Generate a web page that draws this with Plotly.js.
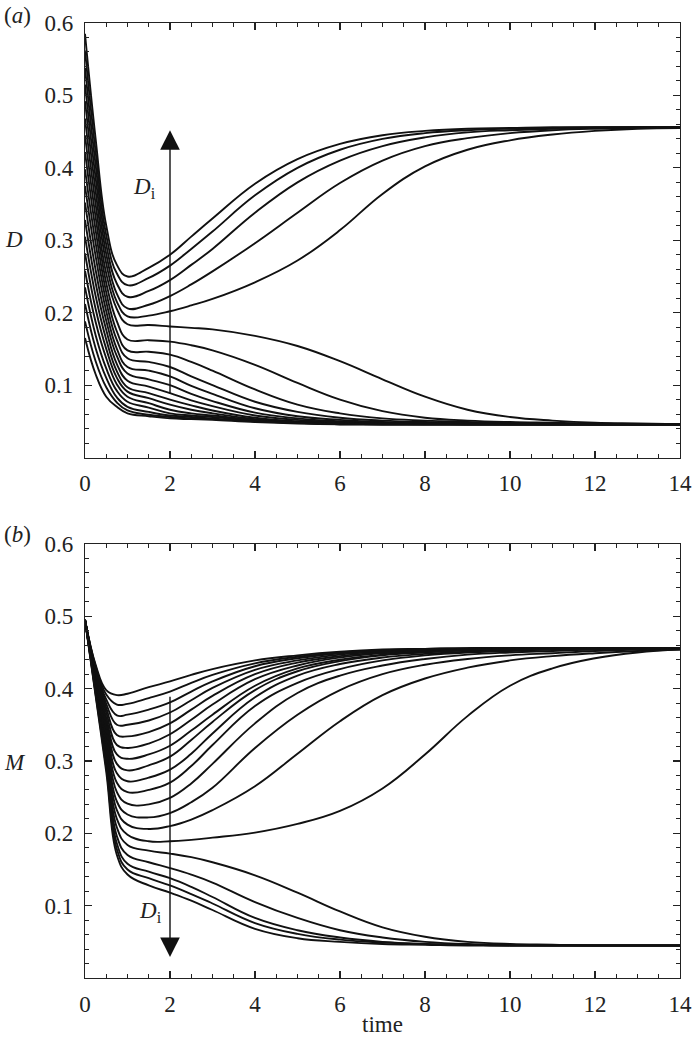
<!DOCTYPE html>
<html>
<head>
<meta charset="utf-8">
<script src="https://cdn.plot.ly/plotly-3.0.1.min.js"></script>
<style>
  html, body { margin: 0; padding: 0; background: #fff; }
  #chart { width: 693px; height: 1040px; }
</style>
</head>
<body>
<div id="chart"></div>
<script>
// sample times shared by every curve
const times = [0, 0.25, 0.5, 0.75, 1, 1.5, 2, 2.5, 3, 4, 5, 6, 7, 8, 9, 10, 11, 12, 13, 14];

// panel (a): D, curves that end on the high branch
const dRising = [
    [.585, .440, .320, .266, .250, .262, .280, .305, .330, .378, .412, .433, .445, .451, .454, .455, .456, .456, .456, .456],
    [.562, .422, .307, .254, .238, .248, .265, .288, .312, .362, .400, .425, .440, .448, .452, .454, .455, .456, .456, .456],
    [.538, .404, .294, .240, .222, .230, .245, .266, .288, .338, .380, .410, .430, .442, .449, .452, .454, .455, .456, .456],
    [.515, .386, .281, .226, .206, .211, .223, .239, .257, .296, .338, .379, .410, .430, .441, .448, .452, .454, .455, .456],
    [.492, .368, .268, .215, .195, .196, .202, .210, .219, .242, .272, .314, .364, .402, .425, .438, .446, .451, .454, .455]
];
// panel (a): D, curves that end on the low branch
const dFalling = [
    [.468, .350, .254, .205, .184, .183, .181, .179, .177, .168, .154, .133, .108, .084, .066, .056, .051, .048, .047, .046],
    [.445, .332, .241, .188, .163, .162, .160, .155, .148, .128, .103, .080, .064, .055, .051, .049, .048, .047, .046, .046],
    [.422, .314, .228, .174, .148, .146, .142, .132, .120, .094, .073, .061, .054, .051, .049, .048, .047, .046, .046, .046],
    [.398, .296, .215, .162, .137, .132, .125, .112, .100, .077, .063, .055, .051, .049, .048, .047, .046, .046, .046, .046],
    [.375, .278, .202, .150, .125, .120, .112, .099, .088, .068, .057, .052, .049, .048, .047, .046, .046, .046, .046, .046],
    [.352, .259, .189, .140, .116, .108, .100, .088, .078, .062, .054, .050, .048, .047, .046, .046, .046, .046, .046, .046],
    [.328, .241, .176, .129, .106, .098, .089, .079, .071, .058, .052, .049, .047, .047, .046, .046, .046, .046, .046, .046],
    [.305, .223, .163, .119, .097, .089, .080, .072, .065, .055, .050, .048, .047, .046, .046, .046, .046, .046, .046, .046],
    [.282, .205, .150, .110, .091, .082, .073, .066, .061, .053, .049, .047, .046, .046, .046, .046, .046, .046, .046, .046],
    [.258, .187, .137, .101, .084, .075, .066, .061, .058, .052, .049, .047, .046, .046, .046, .046, .046, .046, .046, .046],
    [.235, .169, .123, .092, .077, .069, .061, .058, .056, .051, .048, .047, .046, .046, .046, .046, .046, .046, .046, .046],
    [.212, .151, .110, .083, .070, .063, .058, .056, .054, .050, .048, .046, .046, .046, .046, .046, .046, .046, .046, .046],
    [.188, .133, .097, .076, .065, .059, .056, .054, .053, .050, .048, .046, .046, .046, .046, .046, .046, .046, .046, .046],
    [.165, .115, .084, .070, .061, .057, .054, .053, .052, .049, .047, .046, .046, .046, .046, .046, .046, .046, .046, .046]
];

// panel (b): M, high branch
const mRising = [
    [.495, .433, .398, .391, .393, .402, .410, .419, .427, .439, .446, .451, .454, .455, .456, .456, .456, .456, .456, .456],
    [.495, .431, .392, .378, .379, .387, .396, .408, .419, .435, .444, .450, .453, .455, .456, .456, .456, .456, .456, .456],
    [.495, .428, .385, .363, .364, .371, .381, .396, .410, .431, .442, .449, .452, .454, .455, .456, .456, .456, .456, .456],
    [.495, .426, .379, .350, .350, .356, .367, .384, .401, .426, .439, .447, .451, .454, .455, .456, .456, .456, .456, .456],
    [.495, .423, .373, .336, .334, .340, .352, .371, .390, .420, .436, .445, .450, .453, .455, .456, .456, .456, .456, .456],
    [.495, .421, .367, .322, .318, .324, .337, .357, .378, .413, .432, .443, .449, .452, .454, .455, .456, .456, .456, .456],
    [.495, .419, .360, .309, .303, .309, .321, .342, .364, .404, .428, .440, .447, .451, .453, .455, .456, .456, .456, .456],
    [.495, .416, .354, .296, .287, .294, .306, .329, .354, .398, .424, .438, .446, .450, .453, .454, .455, .456, .456, .456],
    [.495, .414, .348, .283, .272, .277, .288, .310, .338, .388, .418, .434, .443, .448, .451, .453, .455, .455, .456, .456],
    [.495, .412, .342, .270, .257, .260, .270, .293, .322, .376, .408, .427, .439, .446, .450, .452, .454, .455, .456, .456],
    [.495, .409, .335, .257, .241, .240, .249, .269, .296, .352, .394, .418, .432, .441, .447, .450, .452, .454, .455, .455],
    [.495, .407, .329, .244, .226, .222, .228, .243, .263, .318, .364, .398, .420, .433, .441, .446, .449, .452, .454, .455],
    [.495, .404, .323, .232, .212, .206, .210, .219, .232, .265, .310, .355, .391, .414, .429, .439, .445, .449, .452, .454],
    [.495, .402, .316, .220, .198, .189, .189, .191, .194, .201, .213, .231, .262, .309, .362, .404, .428, .442, .450, .454]
];
// panel (b): M, low branch
const mFalling = [
    [.495, .400, .310, .208, .184, .176, .172, .167, .160, .142, .118, .092, .070, .057, .050, .047, .046, .045, .045, .045],
    [.495, .397, .304, .196, .170, .160, .152, .143, .132, .105, .083, .066, .056, .050, .047, .046, .045, .045, .045, .045],
    [.495, .395, .298, .186, .158, .147, .138, .126, .112, .083, .066, .056, .050, .047, .046, .045, .045, .045, .045, .045],
    [.495, .392, .291, .178, .150, .138, .128, .116, .103, .076, .061, .053, .049, .047, .046, .045, .045, .045, .045, .045],
    [.495, .390, .285, .170, .143, .128, .118, .107, .094, .068, .055, .050, .047, .046, .045, .045, .045, .045, .045, .045]
];

const xTicks = [0, 2, 4, 6, 8, 10, 12, 14];
const yTicks = [0.1, 0.2, 0.3, 0.4, 0.5, 0.6];
const yTickText = ['0.1', '0.2', '0.3', '0.4', '0.5', '0.6'];

const serif = '"Liberation Serif", "Times New Roman", serif';
const ink = '#111';

function curveTrace(ys, xa, ya) {
    return {
        type: 'scatter', mode: 'lines',
        x: times, y: ys, xaxis: xa, yaxis: ya,
        line: {color: ink, width: 1.9, shape: 'spline', smoothing: 1.2},
        hoverinfo: 'skip', showlegend: false
    };
}

const data = [];
dRising.concat(dFalling).forEach(c => data.push(curveTrace(c, 'x', 'y')));
mRising.concat(mFalling).forEach(c => data.push(curveTrace(c, 'x2', 'y2')));

function xAxis(anchor) {
    return {
        anchor: anchor, domain: [0, 1], range: [0, 14],
        tickmode: 'array', tickvals: xTicks,
        ticks: 'inside', ticklen: 7, tickwidth: 1.2, tickcolor: '#222',
        minor: {tick0: 0, dtick: 0.5, ticks: 'inside', ticklen: 4, tickwidth: 1, tickcolor: '#222'},
        showline: true, linecolor: '#222', linewidth: 1.2, mirror: 'allticks',
        showgrid: false, zeroline: false,
        ticklabelstandoff: 5,
        tickfont: {family: serif, size: 23, color: '#222'}
    };
}
function yAxis(anchor, domain) {
    return {
        anchor: anchor, domain: domain, range: [0, 0.6],
        tickmode: 'array', tickvals: yTicks, ticktext: yTickText,
        ticks: 'inside', ticklen: 7, tickwidth: 1.2, tickcolor: '#222',
        minor: {tick0: 0, dtick: 0.02, ticks: 'inside', ticklen: 4, tickwidth: 1, tickcolor: '#222'},
        showline: true, linecolor: '#222', linewidth: 1.2, mirror: 'allticks',
        showgrid: false, zeroline: false,
        ticklabelstandoff: 6,
        tickfont: {family: serif, size: 23, color: '#222'}
    };
}

const txt = (text, x, y) => ({
    text: text, x: x, y: y, xref: 'paper', yref: 'paper',
    xanchor: 'center', yanchor: 'middle',
    showarrow: false, font: {family: serif, size: 23, color: '#222'}
});

const layout = {
    width: 693, height: 1040,
    margin: {l: 85, r: 13, t: 23, b: 62},
    paper_bgcolor: '#fff', plot_bgcolor: '#fff',
    xaxis: xAxis('y'),
    yaxis: yAxis('x', [0.545, 1]),
    xaxis2: xAxis('y2'),
    yaxis2: yAxis('x2', [0, 0.4545]),
    annotations: [
        // D_i arrows
        {xref: 'x', yref: 'y', axref: 'x', ayref: 'y', x: 2, y: 0.452, ax: 2, ay: 0.086,
         text: '', showarrow: true, arrowhead: 2, arrowsize: 2.8, arrowwidth: 1.4, arrowcolor: ink},
        {xref: 'x2', yref: 'y2', axref: 'x2', ayref: 'y2', x: 2, y: 0.029, ax: 2, ay: 0.391,
         text: '', showarrow: true, arrowhead: 2, arrowsize: 2.8, arrowwidth: 1.4, arrowcolor: ink},
        {xref: 'x', yref: 'y', x: 1.41, y: 0.372, text: '<i>D</i><sub>i</sub>', showarrow: false,
         xanchor: 'center', yanchor: 'middle', font: {family: serif, size: 23, color: '#222'}},
        {xref: 'x2', yref: 'y2', x: 1.53, y: 0.091, text: '<i>D</i><sub>i</sub>', showarrow: false,
         xanchor: 'center', yanchor: 'middle', font: {family: serif, size: 23, color: '#222'}},
        // panel tags and axis names
        txt('(<i>a</i>)', -0.114, 1.008),
        txt('(<i>b</i>)', -0.114, 0.464),
        txt('<i>D</i>', -0.119, 0.773),
        txt('<i>M</i>', -0.117, 0.226),
        txt('time', 0.5, -0.049)
    ]
};

Plotly.newPlot('chart', data, layout, {displayModeBar: false, staticPlot: true});
</script>
</body>
</html>
